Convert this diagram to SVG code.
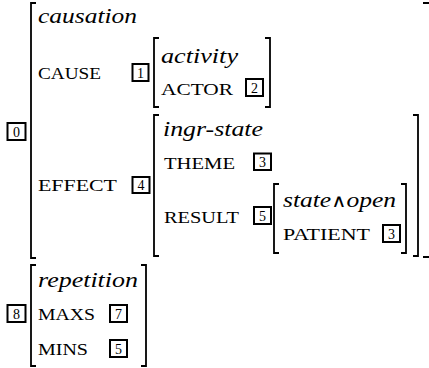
<svg xmlns="http://www.w3.org/2000/svg" width="429" height="368" viewBox="0 0 429 368">
  <style>
    .brk { fill: none; stroke: #000; stroke-width: 1.8; stroke-linecap: butt; }
    .tag rect { fill: #fff; stroke: #000; stroke-width: 2; }
    .tag text { font-size: 14px; text-anchor: middle; fill: #000; }
    .type { font-style: italic; font-size: 22px; fill: #000; }
    .feat { font-size: 16.5px; fill: #000; }
    .wedge { font-style: normal; font-size: 18px; }
  </style>
  <rect width="429" height="368" fill="#fff"/>

  <!-- brackets of every matrix -->
  <g id="connectors">
    <!-- outer causation matrix -->
    <path class="brk" d="M36,3 H31 V258 H36"/>
    <path class="brk" d="M423,3 H429 M423,257 H429"/>
    <!-- activity matrix -->
    <path class="brk" d="M159,38 H154 V107 H159"/>
    <path class="brk" d="M265,38 H270 V107 H265"/>
    <!-- ingr-state matrix -->
    <path class="brk" d="M159,115 H154 V256 H159"/>
    <path class="brk" d="M413,115 H418 V256 H413"/>
    <!-- state/open matrix -->
    <path class="brk" d="M279,184 H274 V253 H279"/>
    <path class="brk" d="M401,184 H406 V253 H401"/>
    <!-- repetition matrix -->
    <path class="brk" d="M36,265 H31 V366 H36"/>
    <path class="brk" d="M141,265 H146 V366 H141"/>
  </g>

  <g id="causation">
    <text class="type" style="font-family:'Liberation Serif'" x="38" y="23" textLength="99" lengthAdjust="spacingAndGlyphs">causation</text>
    <text class="feat" style="font-family:'Liberation Serif'" x="38" y="79" textLength="63" lengthAdjust="spacingAndGlyphs">CAUSE</text>
    <text class="feat" style="font-family:'Liberation Serif'" x="38" y="191" textLength="79" lengthAdjust="spacingAndGlyphs">EFFECT</text>
  </g>
  <g id="tag0" class="tag"><rect x="7.5" y="123" width="18" height="17"/><text style="font-family:'Liberation Serif'" x="16.5" y="136.5">0</text></g>
  <g id="tag1" class="tag"><rect x="132.5" y="64" width="16" height="17"/><text style="font-family:'Liberation Serif'" x="140.5" y="77.5">1</text></g>
  <g id="tag4" class="tag"><rect x="132.5" y="177" width="17" height="16"/><text style="font-family:'Liberation Serif'" x="141" y="190">4</text></g>

  <g id="activity">
    <text class="type" style="font-family:'Liberation Serif'" x="161" y="63" textLength="77" lengthAdjust="spacingAndGlyphs">activity</text>
    <text class="feat" style="font-family:'Liberation Serif'" x="161" y="95" textLength="72" lengthAdjust="spacingAndGlyphs">ACTOR</text>
  </g>
  <g id="tag2" class="tag"><rect x="246" y="79" width="17" height="17"/><text style="font-family:'Liberation Serif'" x="254.5" y="92.5">2</text></g>

  <g id="ingr-state">
    <text class="type" style="font-family:'Liberation Serif'" x="163" y="136" textLength="100" lengthAdjust="spacingAndGlyphs">ingr-state</text>
    <text class="feat" style="font-family:'Liberation Serif'" x="164" y="169" textLength="71" lengthAdjust="spacingAndGlyphs">THEME</text>
    <text class="feat" style="font-family:'Liberation Serif'" x="164" y="223" textLength="75" lengthAdjust="spacingAndGlyphs">RESULT</text>
  </g>
  <g id="tag3a" class="tag"><rect x="254" y="153.5" width="17" height="16.5"/><text style="font-family:'Liberation Serif'" x="262.5" y="167">3</text></g>
  <g id="tag5a" class="tag"><rect x="254" y="207" width="17" height="17"/><text style="font-family:'Liberation Serif'" x="262.5" y="220.5">5</text></g>

  <g id="state-open">
    <text class="type" style="font-family:'Liberation Serif'" x="283" y="207" textLength="113" lengthAdjust="spacingAndGlyphs">state<tspan class="wedge" style="font-family:'DejaVu Sans'">∧</tspan>open</text>
    <text class="feat" style="font-family:'Liberation Serif'" x="283" y="240" textLength="87" lengthAdjust="spacingAndGlyphs">PATIENT</text>
  </g>
  <g id="tag3b" class="tag"><rect x="383" y="225" width="17" height="17"/><text style="font-family:'Liberation Serif'" x="391.5" y="238.5">3</text></g>

  <g id="repetition">
    <text class="type" style="font-family:'Liberation Serif'" x="38" y="287" textLength="100" lengthAdjust="spacingAndGlyphs">repetition</text>
    <text class="feat" style="font-family:'Liberation Serif'" x="38" y="320" textLength="57" lengthAdjust="spacingAndGlyphs">MAXS</text>
    <text class="feat" style="font-family:'Liberation Serif'" x="38" y="355" textLength="50" lengthAdjust="spacingAndGlyphs">MINS</text>
  </g>
  <g id="tag8" class="tag"><rect x="7.5" y="305" width="18" height="17"/><text style="font-family:'Liberation Serif'" x="16.5" y="318.5">8</text></g>
  <g id="tag7" class="tag"><rect x="110" y="305" width="17" height="17"/><text style="font-family:'Liberation Serif'" x="118.5" y="318.5">7</text></g>
  <g id="tag5b" class="tag"><rect x="110" y="340" width="17" height="17"/><text style="font-family:'Liberation Serif'" x="118.5" y="353.5">5</text></g>
</svg>
